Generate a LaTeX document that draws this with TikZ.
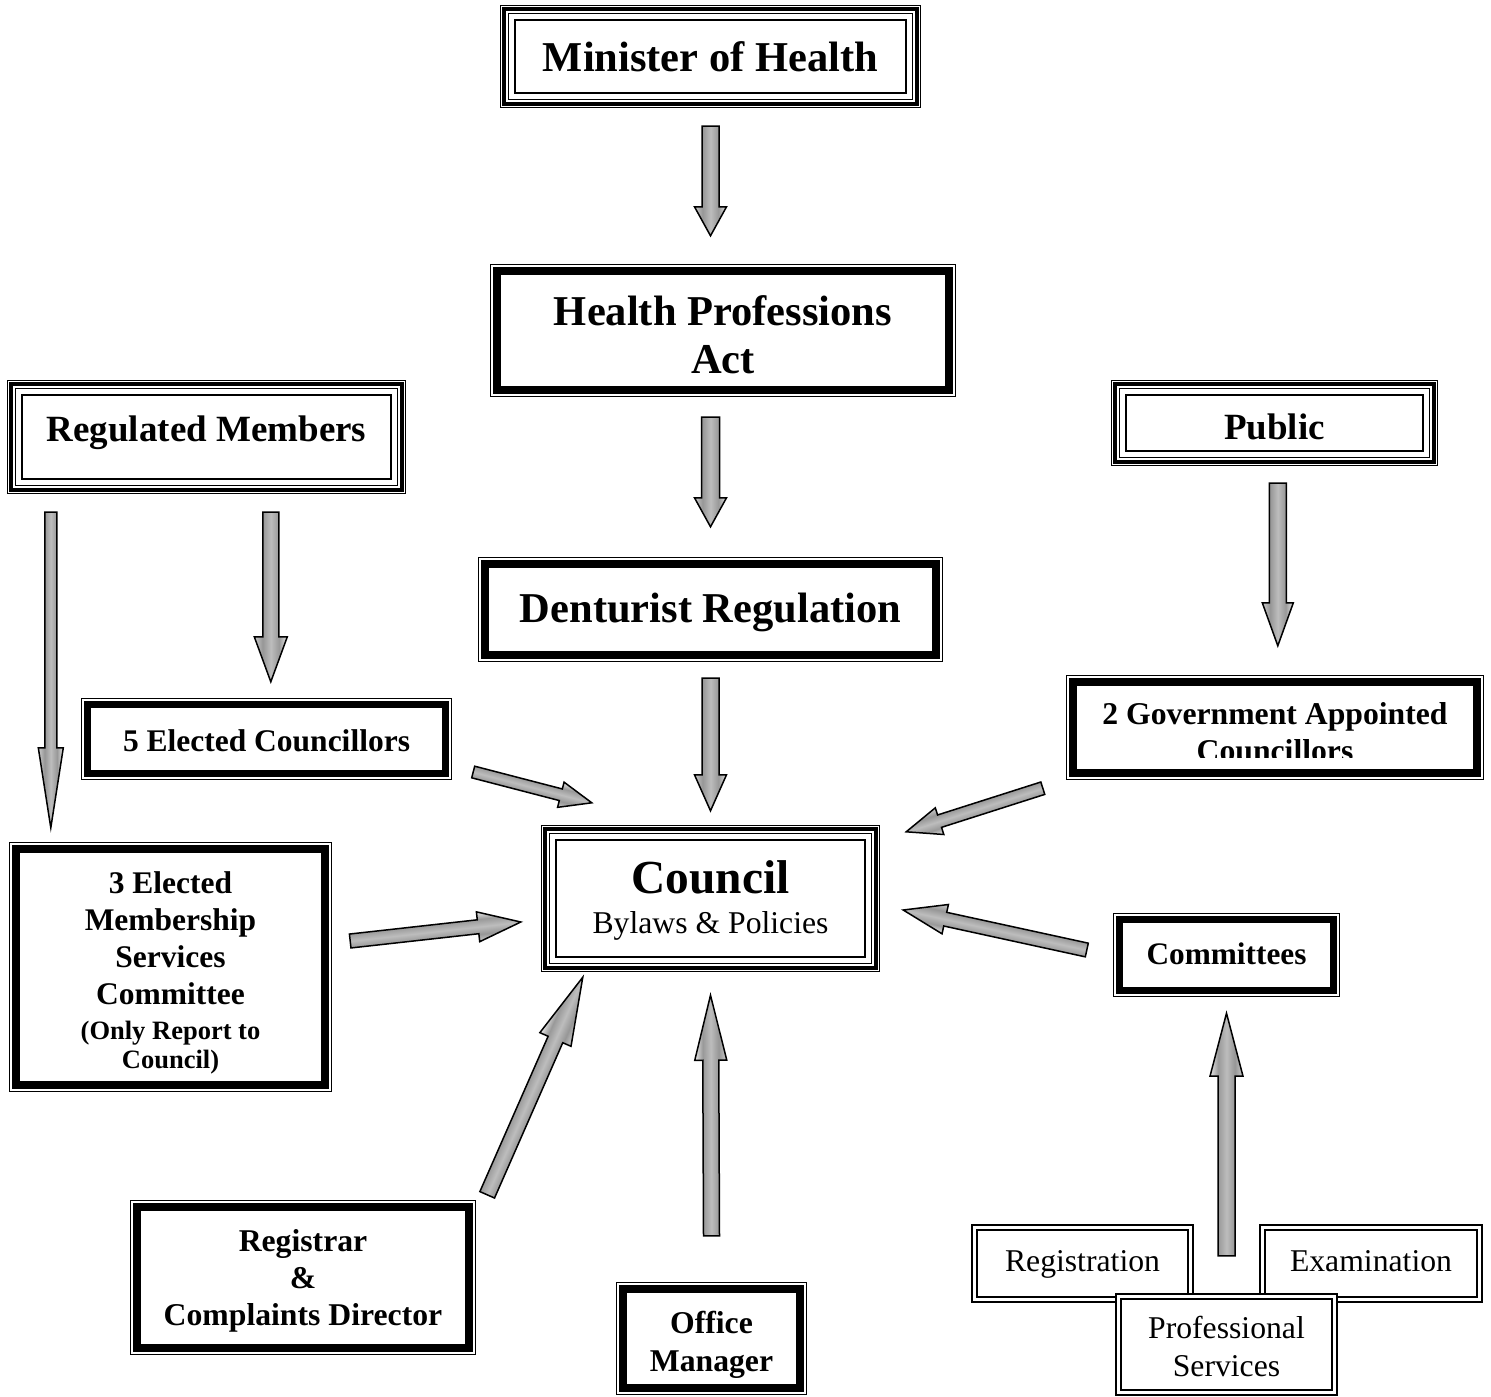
\documentclass[tikz,border=0pt]{standalone}
\usepackage{fontspec}
\setmainfont{Liberation Serif}
\usetikzlibrary{calc}
\newcommand{\fs}[2]{\fontsize{#1}{#2}\selectfont}
\newcommand{\lift}[2]{\raisebox{#1pt}[\height][\depth]{\begin{tabular}{@{}c@{}}#2\end{tabular}}}
\pgfdeclareverticalshading{arrsh}{100bp}{color(0bp)=(gray!40); color(25bp)=(gray!40); color(37.5bp)=(gray!82); color(50bp)=(gray!52); color(62.5bp)=(gray!80); color(75bp)=(gray!18); color(100bp)=(gray!18)}
\newdimen\bxa \newdimen\bya \newdimen\bxb \newdimen\byb
\newcommand{\barrow}[5]{% tail, tip, half shaft, half head, head length
  \coordinate (ba) at #1; \coordinate (bb) at #2;
  \pgfextractx{\bxa}{\pgfpointanchor{ba}{center}}%
  \pgfextracty{\bya}{\pgfpointanchor{ba}{center}}%
  \pgfextractx{\bxb}{\pgfpointanchor{bb}{center}}%
  \pgfextracty{\byb}{\pgfpointanchor{bb}{center}}%
  \pgfmathsetmacro\bang{atan2(\byb-\bya,\bxb-\bxa)}%
  \pgfmathsetmacro\blen{veclen(\bxb-\bxa,\byb-\bya)}%
  \pgfmathsetmacro\bneck{\blen-#5}%
  \begin{scope}[transform canvas={shift={(ba)},rotate=\bang}]
    \draw[arrowsty] (0,-#3) -- (\bneck,-#3) -- (\bneck,-#4) -- (\blen,0) -- (\bneck,#4) -- (\bneck,#3) -- (0,#3) -- cycle;
  \end{scope}}
\tikzset{
  box/.style={rectangle, inner sep=0pt, fill=white},
  triple/.style={box, path picture={
    \foreach \dd/\ww in {0.5/1, 4.3/4.3, 8.8/1.3, 15/2.4}
      \draw[line width=\ww pt] ($(path picture bounding box.north west)+(\dd pt,-\dd pt)$) rectangle ($(path picture bounding box.south east)+(-\dd pt,\dd pt)$);}},
  thinthick/.style={box, path picture={
    \draw[line width=1.3pt] ($(path picture bounding box.north west)+(0.65pt,-0.65pt)$) rectangle ($(path picture bounding box.south east)+(-0.65pt,0.65pt)$);
    \pgfmathsetmacro\dk{3.3+#1/2}
    \draw[line width=#1pt] ($(path picture bounding box.north west)+(\dk pt,-\dk pt)$) rectangle ($(path picture bounding box.south east)+(-\dk pt,\dk pt)$);}},
  dbl/.style={box, path picture={
    \foreach \dd/\ww in {0.9/1.8, 5.8/2}
      \draw[line width=\ww pt] ($(path picture bounding box.north west)+(\dd pt,-\dd pt)$) rectangle ($(path picture bounding box.south east)+(-\dd pt,\dd pt)$);}},
  arrowsty/.style={draw=black, line width=1.5pt, line join=miter, shade, shading=arrsh, shading angle=0}
}
\begin{document}
\begin{tikzpicture}[x=1pt,y=1pt]
\useasboundingbox (0,0) rectangle (1491,-1397);
% boxes
\node[triple, minimum width=421pt, minimum height=103pt, font=\bfseries\fs{42.5}{46}] (min) at (710.5,-56.5) {\lift{-6}{Minister of Health}};
\node[thinthick=8, minimum width=466pt, minimum height=133pt, font=\bfseries\fs{42.5}{48}] (hpa) at (723,-330.5) {\lift{-9.4}{Health Professions\\Act}};
\node[thinthick=8, minimum width=465pt, minimum height=105pt, font=\bfseries\fs{42.5}{46}] (den) at (710.5,-609.5) {\lift{-3.4}{Denturist Regulation}};
\node[triple, minimum width=399pt, minimum height=114pt, font=\bfseries\fs{37}{42}] (regm) at (206.5,-437) {\lift{3.7}{Regulated Members}};
\node[triple, minimum width=327pt, minimum height=86pt, font=\bfseries\fs{37}{42}] (pub) at (1274.5,-423) {\lift{-8.3}{Public}};
\node[thinthick=7, minimum width=371pt, minimum height=82pt, font=\bfseries\fs{31.5}{36}] (five) at (266.5,-739) {\lift{-5.2}{5 Elected Councillors}};
\node[thinthick=8, minimum width=418pt, minimum height=105pt] (gov) at (1275,-727.5) {};
\begin{scope}
  \clip ($(gov.north west)+(0,-1)$) rectangle ($(gov.south east)+(0,23)$);
  \node[inner sep=0pt, font=\bfseries\fs{31.7}{37}] (govtxt) at (1275,-735.2) {\begin{tabular}{@{}c@{}}2 Government Appointed\\Councillors\end{tabular}};
\end{scope}
\node[thinthick=8, minimum width=323pt, minimum height=250pt, font=\bfseries\fs{31.5}{37}] (mem) at (170.5,-967) {\lift{-6.7}{3 Elected\\Membership\\Services\\Committee\\[-2pt] \fs{26.5}{29}(Only Report to\\[-8pt] \fs{26.5}{29}Council)}};
\node[triple, minimum width=339pt, minimum height=147pt, font=\fs{31.7}{40}] (council) at (710.5,-898.5) {\lift{-4.8}{\bfseries\fs{47.4}{40}Council\\Bylaws \& Policies}};
\node[thinthick=6.5, minimum width=227pt, minimum height=84pt, font=\bfseries\fs{31.3}{36}] (comm) at (1226.5,-955) {\lift{-2.4}{Committees}};
\node[thinthick=7.5, minimum width=346pt, minimum height=155pt, font=\bfseries\fs{31.7}{37}] (regc) at (303,-1277.5) {\lift{-3.6}{Registrar\\\&\\Complaints Director}};
\node[thinthick=7.5, minimum width=191pt, minimum height=113pt, font=\bfseries\fs{31.7}{38}] (off) at (711.5,-1338.5) {\lift{-6.4}{Office\\Manager}};
\node[dbl, minimum width=223pt, minimum height=79pt, font=\fs{31.7}{36}] (regis) at (1082.5,-1263.5) {\lift{-0.8}{Registration}};
\node[dbl, minimum width=224pt, minimum height=79pt, font=\fs{31.7}{36}] (exam) at (1371,-1263.5) {\lift{-0.8}{Examination}};
\node[dbl, minimum width=223pt, minimum height=103pt, font=\fs{31.7}{38}] (prof) at (1226.5,-1344.5) {\lift{-5.4}{Professional\\Services}};
% arrows
\barrow{($(min.south)+(0,-18)$)}{($(min.south |- hpa.north)+(0,28)$)}{8.5}{16}{29}
\barrow{($(den.north |- hpa.south)+(0,-20)$)}{($(den.north)+(0,30)$)}{9}{16}{29}
\barrow{($(den.south)+(0,-16)$)}{($(council.north)+(0,14)$)}{8.5}{16}{36}
\barrow{($(regm.south west)+(44,-18)$)}{($(mem.north west)+(42,14)$)}{6}{12.5}{80}
\barrow{($(regm.south west)+(264,-18)$)}{($(five.north west)+(190,16)$)}{8}{16.5}{45}
\barrow{($(pub.south west)+(167,-17)$)}{($(gov.north west)+(212,29)$)}{8.5}{15.5}{43}
\barrow{($(five.east)+(21,-33)$)}{($(council.north west)+(51,22)$)}{6}{13}{32}
\barrow{($(gov.south west)+(-23,-8)$)}{($(council.north east)+(26,-7)$)}{6.5}{14}{35}
\barrow{($(mem.east)+(18,26)$)}{($(council.west)+(-20,-23.5)$)}{7}{15}{43}
\barrow{($(comm.west)+(-26,5)$)}{($(council.east)+(23,-11.5)$)}{7}{15}{43}
\barrow{($(regc.north east)+(11,5)$)}{($(council.south west)+(42,-5)$)}{8}{17}{68}
\barrow{($(off.north)+(0,46)$)}{($(council.south)+(0,-23)$)}{8}{16}{65}
\barrow{($(prof.north)+(0,37)$)}{($(comm.south)+(0,-16)$)}{8.5}{16.5}{63}
\end{tikzpicture}
\end{document}
